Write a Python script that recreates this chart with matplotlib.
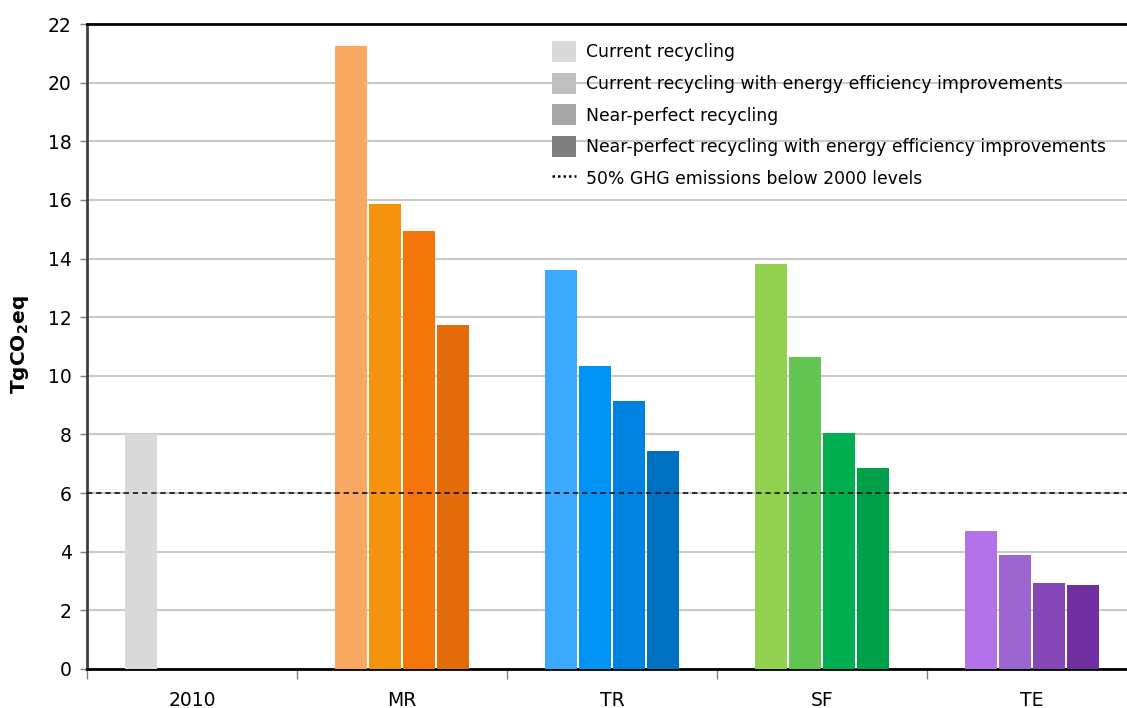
import numpy as np
import matplotlib
matplotlib.use("Agg")
import matplotlib.pyplot as plt
from matplotlib.patches import Patch
from matplotlib.lines import Line2D

# Categories and scenario results (TgCO2eq)
categories = ["2010", "MR", "TR", "SF", "TE"]
series_names = [
    "Current recycling",
    "Current recycling with energy efficiency improvements",
    "Near-perfect recycling",
    "Near-perfect recycling with energy efficiency improvements",
]
current = [8.0, 21.25, 13.6, 13.8, 4.7]
current_eff = [np.nan, 15.85, 10.35, 10.65, 3.9]
near_perfect = [np.nan, 14.95, 9.15, 8.05, 2.95]
near_perfect_eff = [np.nan, 11.75, 7.45, 6.85, 2.88]
target_level = 6.0
target_label = "50% GHG emissions below 2000 levels"
y_ticks = list(range(0, 23, 2))

# Per-category bar colours (one per scenario)
bar_colors = [
    ["#d9d9d9", "#d9d9d9", "#d9d9d9", "#d9d9d9"],
    ["#f9a862", "#f5930d", "#f4760b", "#e36c0a"],
    ["#3aa9ff", "#0093f5", "#0083e0", "#0070c0"],
    ["#92d050", "#62c552", "#00b050", "#00a04a"],
    ["#b273e8", "#9b66d0", "#8447b5", "#7030a0"],
]
legend_grays = ["#d9d9d9", "#bfbfbf", "#a6a6a6", "#7f7f7f"]

series = [current, current_eff, near_perfect, near_perfect_eff]

W, H = 1127, 708
fig = plt.figure(figsize=(W / 100, H / 100), dpi=100)
ax = fig.add_axes([87 / W, 39 / H, (1137 - 87) / W, 645 / H])

x = np.arange(len(categories))
pitch = 0.162
width = 0.148
for i, vals in enumerate(series):
    offset = (i - 1.5) * pitch
    cols = [bar_colors[c][i] for c in range(len(categories))]
    ax.bar(x + offset, vals, width=width, color=cols, edgecolor="none", zorder=3)

ax.axhline(target_level, color="black", lw=1.1, ls=(0, (3.5, 2.5)), zorder=4)

ax.set_xlim(-0.5, len(categories) - 0.5)
ax.set_ylim(0, 22)
ax.set_yticks(y_ticks)
ax.yaxis.grid(True, color="#cacaca", lw=1.5, zorder=0)
ax.set_axisbelow(True)

ax.set_xticks(x)
ax.set_xticklabels(categories)
ax.set_xticks(np.arange(-0.5, len(categories) + 0.5, 1.0), minor=True)
ax.tick_params(axis="x", which="major", length=0, pad=16, labelsize=13.5)
ax.tick_params(axis="x", which="minor", length=7, width=1, color="#808080", direction="out")
ax.tick_params(axis="y", length=5, width=1, color="#808080", direction="out", pad=6, labelsize=13.5)

for side in ["top", "bottom"]:
    ax.spines[side].set_color("black")
    ax.spines[side].set_linewidth(2)
ax.spines["left"].set_color("#404040")
ax.spines["left"].set_linewidth(2)
ax.spines["right"].set_visible(False)

fig.text(20 / W, 1 - 345 / H, r"TgCO$_\mathbf{2}$eq", rotation=90, ha="center", va="center",
         fontsize=14.5, fontweight="bold")

handles = [Patch(facecolor=c, edgecolor="none") for c in legend_grays]
handles.append(Line2D([0], [0], color="black", lw=1.8, ls=(0, (1, 1.2))))
labels = series_names + [target_label]
fig.legend(handles, labels, loc="upper left", bbox_to_anchor=(552 / W, 1 - 41 / H),
           frameon=False, fontsize=12.4, borderpad=0, handlelength=1.4, handleheight=1.5,
           handletextpad=0.55, labelspacing=0.62, borderaxespad=0)

fig.savefig("out.png", dpi=100)
